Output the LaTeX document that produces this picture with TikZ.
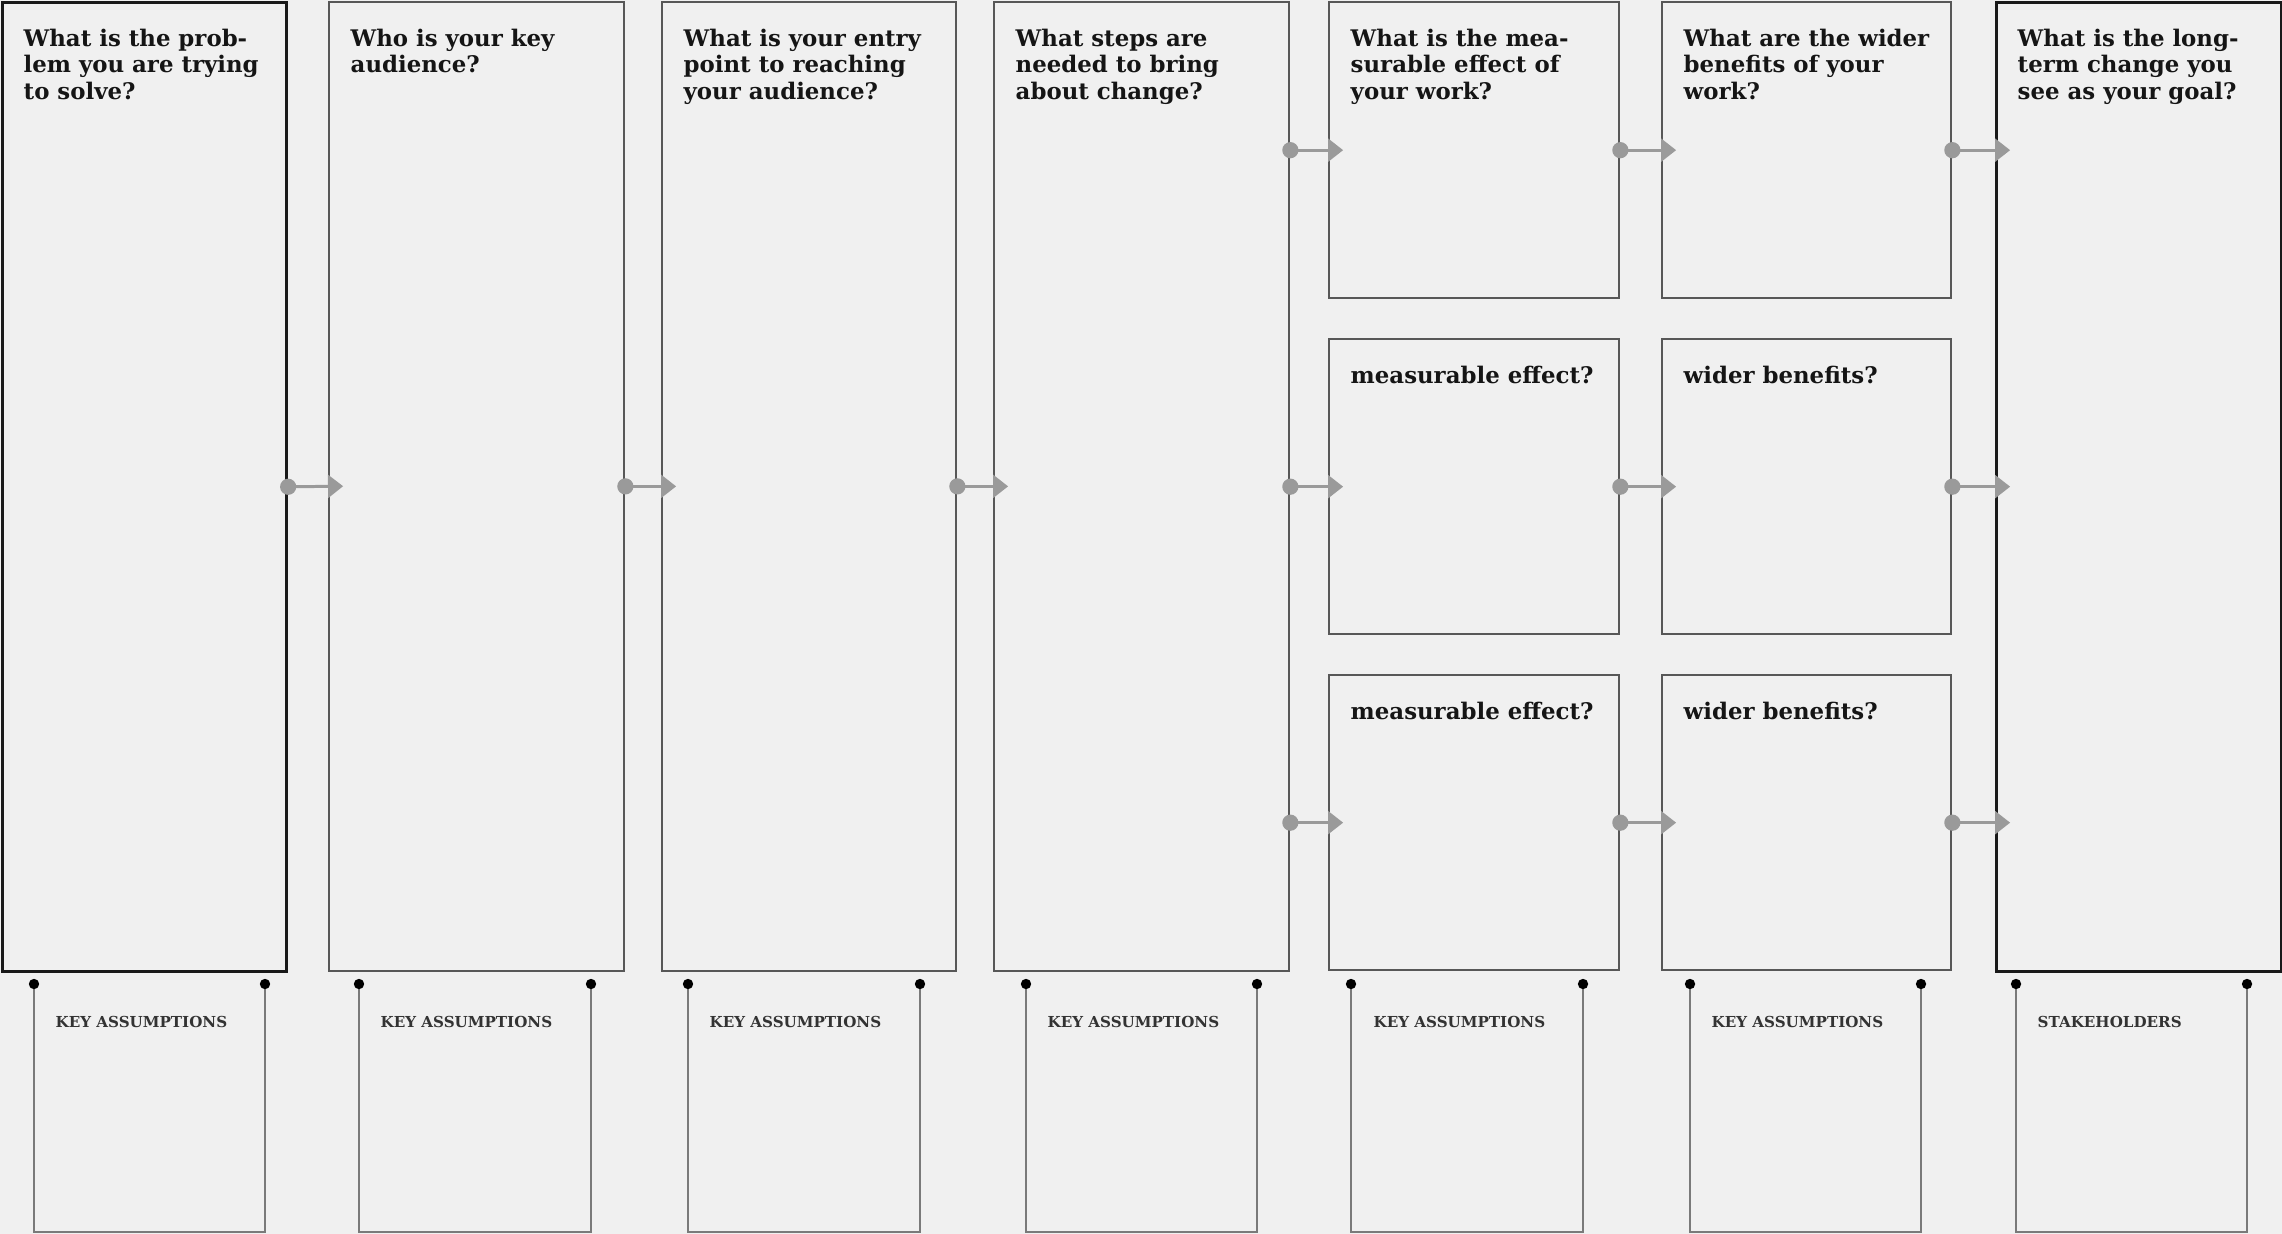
\documentclass[tikz,border=0pt]{standalone}
\usepackage{fontspec}
\setmainfont{DejaVu Serif}
\usetikzlibrary{arrows.meta, positioning}
\definecolor{canvasGrey}{HTML}{F0F0F0}
\definecolor{edgeGrey}{HTML}{7A7A7A}
\definecolor{flowGrey}{HTML}{9A9A9A}
\definecolor{inkDark}{HTML}{151515}
\tikzset{
    box_outer/.style={
        rectangle, draw=black!90, line width=0.85pt, anchor=north west,
        inner sep=0pt, minimum height=9.68cm
    },
    box_inner/.style={
        rectangle, draw=black!66, line width=0.62pt, anchor=north west,
        inner sep=0pt
    },
    qtext/.style={
        anchor=north west, inner sep=0pt, align=left, text=inkDark,
        font=\bfseries\fontsize{6.5}{7.55}\selectfont
    },
    tagtext/.style={
        anchor=base west, inner sep=0pt, text=black!80,
        font=\bfseries\fontsize{4.3}{5}\selectfont
    },
    flow_arrow/.style={
        {Circle[length=4.6pt]}-{Triangle[length=4.3pt, width=6.5pt]},
        draw=flowGrey, line width=0.85pt, shorten <=-2.3pt, shorten >=-4.3pt
    },
    tray/.style={
        {Circle[length=2.9pt, color=black]}-{Circle[length=2.9pt, color=black]},
        draw=edgeGrey, line width=0.6pt, shorten <=-1.45pt, shorten >=-1.45pt
    }
}

\begin{document}
\begin{tikzpicture}[x=0.01cm, y=-0.01cm]
    \fill[canvasGrey] (0,0) rectangle (2282,1234);
    \useasboundingbox (0,0) rectangle (2282,1234);

    % Tall columns (problem -> audience -> entry -> steps)
    \node[box_outer, minimum width=2.84cm] (problem) at (1,1) {};
    \node[box_inner, minimum width=2.95cm, minimum height=9.68cm] (audience) at (328,1) {};
    \node[box_inner, minimum width=2.94cm, minimum height=9.68cm] (entry) at (661,1) {};
    \node[box_inner, minimum width=2.95cm, minimum height=9.68cm] (steps) at (993,1) {};

    % Measurable effect column
    \node[box_inner, minimum width=2.90cm, minimum height=2.96cm] (effA) at (1328,1) {};
    \node[box_inner, minimum width=2.90cm, minimum height=2.95cm] (effB) at (1328,338) {};
    \node[box_inner, minimum width=2.90cm, minimum height=2.95cm] (effC) at (1328,674) {};

    % Wider benefits column
    \node[box_inner, minimum width=2.89cm, minimum height=2.96cm] (benA) at (1661,1) {};
    \node[box_inner, minimum width=2.89cm, minimum height=2.95cm] (benB) at (1661,338) {};
    \node[box_inner, minimum width=2.89cm, minimum height=2.95cm] (benC) at (1661,674) {};

    % Goal column
    \node[box_outer, minimum width=2.85cm] (goal) at (1995,1) {};

    % Questions
    \node[qtext] (problemq) at (23,28) {What is the prob-\\lem you are trying\\to solve?};
    \node[qtext] (audienceq) at (350,28) {Who is your key\\audience?};
    \node[qtext] (entryq) at (683,28) {What is your entry\\point to reaching\\your audience?};
    \node[qtext] (stepsq) at (1015,28) {What steps are\\needed to bring\\about change?};
    \node[qtext] (effAq) at (1350,28) {What is the mea-\\surable effect of\\your work?};
    \node[qtext] (effBq) at (1350,365) {measurable effect?};
    \node[qtext] (effCq) at (1350,701) {measurable effect?};
    \node[qtext] (benAq) at (1683,28) {What are the wider\\benefits of your\\work?};
    \node[qtext] (benBq) at (1683,365) {wider benefits?};
    \node[qtext] (benCq) at (1683,701) {wider benefits?};
    \node[qtext] (goalq) at (2017,28) {What is the long-\\term change you\\see as your goal?};

    % Flow between columns
    \draw[flow_arrow] (problem.east) -- (audience.west);
    \draw[flow_arrow] (audience.east) -- (entry.west);
    \draw[flow_arrow] (entry.east) -- (steps.west);
    \draw[flow_arrow] (steps.east |- effA.west) -- (effA.west);
    \draw[flow_arrow] (steps.east |- effB.west) -- (effB.west);
    \draw[flow_arrow] (steps.east |- effC.west) -- (effC.west);
    \draw[flow_arrow] (effA.east) -- (benA.west);
    \draw[flow_arrow] (effB.east) -- (benB.west);
    \draw[flow_arrow] (effC.east) -- (benC.west);
    \draw[flow_arrow] (benA.east) -- (goal.west |- benA.east);
    \draw[flow_arrow] (benB.east) -- (goal.west |- benB.east);
    \draw[flow_arrow] (benC.east) -- (goal.west |- benC.east);

    % Assumption trays below each column
    \coordinate (tray1l) at (34,984);   \coordinate (tray1r) at (265,984);
    \coordinate (tray2l) at (359,984);  \coordinate (tray2r) at (591,984);
    \coordinate (tray3l) at (688,984);  \coordinate (tray3r) at (920,984);
    \coordinate (tray4l) at (1026,984); \coordinate (tray4r) at (1257,984);
    \coordinate (tray5l) at (1351,984); \coordinate (tray5r) at (1583,984);
    \coordinate (tray6l) at (1690,984); \coordinate (tray6r) at (1921,984);
    \coordinate (tray7l) at (2016,984); \coordinate (tray7r) at (2247,984);

    \draw[tray] (tray1l) -- ++(0,248) -| (tray1r);
    \draw[tray] (tray2l) -- ++(0,248) -| (tray2r);
    \draw[tray] (tray3l) -- ++(0,248) -| (tray3r);
    \draw[tray] (tray4l) -- ++(0,248) -| (tray4r);
    \draw[tray] (tray5l) -- ++(0,248) -| (tray5r);
    \draw[tray] (tray6l) -- ++(0,248) -| (tray6r);
    \draw[tray] (tray7l) -- ++(0,248) -| (tray7r);

    \node[tagtext] (assume1) at (55,1027) {KEY ASSUMPTIONS};
    \node[tagtext] (assume2) at (380,1027) {KEY ASSUMPTIONS};
    \node[tagtext] (assume3) at (709,1027) {KEY ASSUMPTIONS};
    \node[tagtext] (assume4) at (1047,1027) {KEY ASSUMPTIONS};
    \node[tagtext] (assume5) at (1373,1027) {KEY ASSUMPTIONS};
    \node[tagtext] (assume6) at (1711,1027) {KEY ASSUMPTIONS};
    \node[tagtext] (stakeholders) at (2037,1027) {STAKEHOLDERS};
\end{tikzpicture}
\end{document}
